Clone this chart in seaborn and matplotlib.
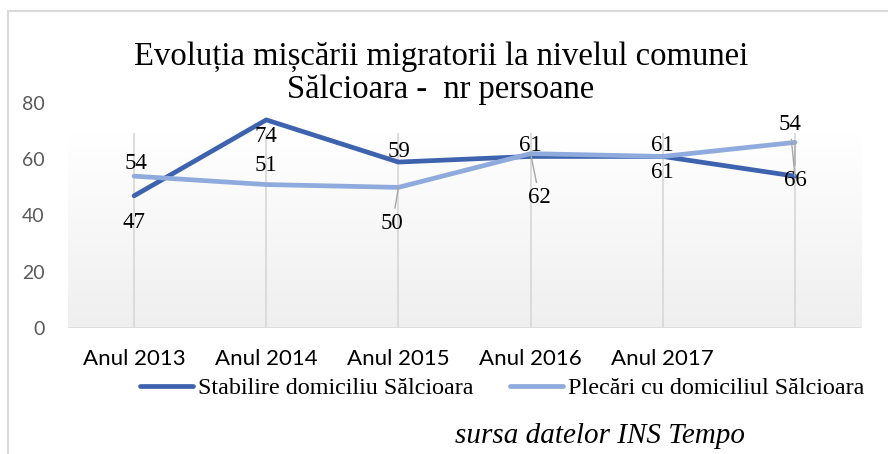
import numpy as np
import pandas as pd
import seaborn as sns
import matplotlib.pyplot as plt
from matplotlib.colors import LinearSegmentedColormap
from matplotlib.lines import Line2D

# ---------------------------------------------------------------------------
# Data
# ---------------------------------------------------------------------------
categories = ["Anul 2013", "Anul 2014", "Anul 2015", "Anul 2016", "Anul 2017", ""]
stabilire = [47, 74, 59, 61, 61, 54]
plecari = [54, 51, 50, 62, 61, 66]
series_names = ["Stabilire domiciliu Sălcioara", "Plecări cu domiciliul Sălcioara"]
title = "Evoluția mișcării migratorii la nivelul comunei\nSălcioara -  nr persoane"
source = "sursa datelor INS Tempo"

# label offsets in pixels (dx, dy) -- Excel placed them a bit oddly
stab_offsets = [(0, -27), (0, -17), (1, 11), (0, 11), (0, 11), (-5, 52)]
plec_offsets = [(2, 13), (0, 19), (-6, -36), (9, -44), (0, -16), (0, -38)]
stab_leader = [False, False, False, False, False, True]
plec_leader = [False, False, True, True, False, True]

DARK = "#3D63AE"
LIGHT = "#8FAADC"
GRID = "#d9d9d9"

# ---------------------------------------------------------------------------
# Plot
# ---------------------------------------------------------------------------
sns.set_style("white")
plt.rcParams["font.family"] = ["Lato", "DejaVu Sans"]
plt.rcParams["text.color"] = "#000000"

pos = np.arange(len(categories))
df = pd.DataFrame({
    "pos": np.concatenate([pos, pos]),
    "value": stabilire + plecari,
    "series": [series_names[0]] * len(pos) + [series_names[1]] * len(pos),
})

fig = plt.figure(figsize=(8.88, 4.54), dpi=100)
ax = fig.add_axes([68 / 888, 1 - 328 / 454, 793 / 888, 225 / 454])

# plot-area gradient + gridlines
plot_top = 69.3
cmap = LinearSegmentedColormap.from_list("bg", ["#efefef", "#ffffff"])
ax.imshow(np.linspace(0, 1, 100)[:, None], extent=(-0.5, 5.5, 0, plot_top),
          origin="lower", aspect="auto", cmap=cmap, zorder=0)
ax.vlines(pos, 0, plot_top, color=GRID, lw=1.3, zorder=0.5)
ax.hlines(0, -0.5, 5.5, color=GRID, lw=1.8, zorder=0.6)

sns.lineplot(data=df, x="pos", y="value", hue="series", palette=[DARK, LIGHT],
             linewidth=3.4, legend=False, ax=ax, zorder=3, sort=False)
for line in ax.get_lines():
    line.set_solid_capstyle("round")

serif = ["Liberation Serif", "DejaVu Serif"]
leader = dict(arrowstyle="-", color="#a6a6a6", lw=1.0, shrinkA=1, shrinkB=0)
for vals, offs, leads in [(stabilire, stab_offsets, stab_leader),
                          (plecari, plec_offsets, plec_leader)]:
    for x, v, (dx, dy), ld in zip(pos, vals, offs, leads):
        ax.annotate(str(v), (x, v), xytext=(dx, dy), textcoords="offset pixels",
                    ha="center", va="center", fontsize=16.5, family=serif,
                    color="#000000", zorder=5,
                    arrowprops=leader if ld else None)

ax.set_xlim(-0.5, 5.5)
ax.set_ylim(0, 80)
ax.set_yticks([0, 20, 40, 60, 80])
ax.set_xticks(pos)
ax.set_xticklabels(categories)
ax.tick_params(axis="y", length=0, pad=17, labelsize=14, labelcolor="#595959")
ax.tick_params(axis="x", length=0, pad=15, labelsize=16, labelcolor="#000000")
ax.set_xlabel("")
ax.set_ylabel("")
for s in ax.spines.values():
    s.set_visible(False)
ax.patch.set_alpha(0)

# chart border (top + left only visible in the reference)
fig.add_artist(Line2D([8 / 888, 8 / 888], [0, 1 - 11 / 454], color=GRID, lw=1.5))
fig.add_artist(Line2D([8 / 888, 1], [1 - 11 / 454, 1 - 11 / 454], color=GRID, lw=1.5))

fig.text(441 / 888, 1 - 73 / 454, title, ha="center", va="center",
         fontsize=23.5, family=serif, linespacing=1.12, color="#000000")

handles = [Line2D([], [], color=DARK, lw=3.4, solid_capstyle="round"),
           Line2D([], [], color=LIGHT, lw=3.4, solid_capstyle="round")]
fig.legend(handles, series_names, loc="center", ncol=2, frameon=False,
           bbox_to_anchor=(502 / 888, 1 - 388 / 454),
           prop={"family": serif, "size": 17.4},
           handlelength=2.2, handletextpad=0.2, columnspacing=1.5)

fig.text(600 / 888, 1 - 436 / 454, source, ha="center", va="center",
         fontsize=21, family=serif, style="italic", color="#000000")

fig.savefig("out.png", dpi=100)
